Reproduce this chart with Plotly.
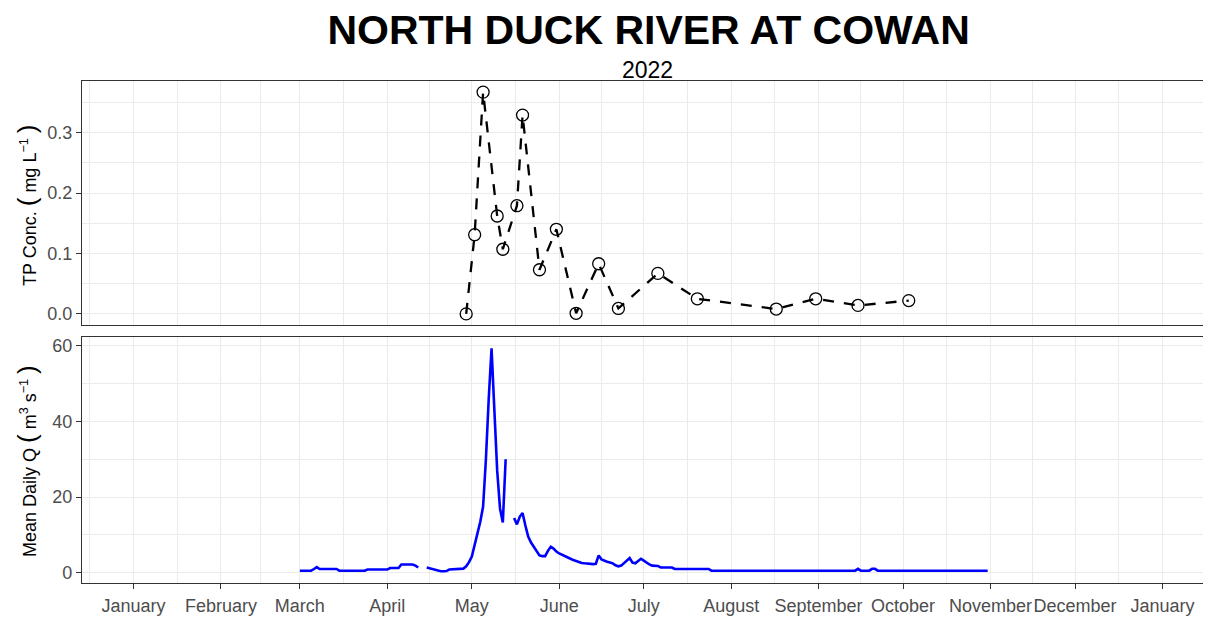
import plotly.graph_objects as go
import pandas as pd

# ---------------- data ----------------
tp_dates = ["2022-04-29", "2022-05-02", "2022-05-05", "2022-05-10", "2022-05-12",
            "2022-05-17", "2022-05-19", "2022-05-25", "2022-05-31", "2022-06-07",
            "2022-06-15", "2022-06-22", "2022-07-06", "2022-07-20", "2022-08-17",
            "2022-08-31", "2022-09-15", "2022-10-03"]
tp_values = [0.000, 0.131, 0.367, 0.162, 0.107, 0.179, 0.329, 0.073, 0.140, 0.001,
             0.083, 0.009, 0.067, 0.025, 0.008, 0.025, 0.014, 0.022]

flow_start = "2022-03-01"
flow_mar = [0.55, 0.55, 0.55, 0.55, 0.55, 1.0, 1.5, 1.0, 1.0, 1.0,
            1.0, 1.0, 1.0, 1.0, 0.55, 0.55, 0.55, 0.55, 0.55, 0.55,
            0.55, 0.55, 0.55, 0.55, 0.85, 0.85, 0.85, 0.85, 0.85, 0.85,
            0.85]
flow_apr = [0.85, 1.25, 1.25, 1.25, 1.25, 2.2, 2.2, 2.2, 2.2, 2.2,
            1.9, 1.4, None, None, 1.4, 1.2, 0.9, 0.6, 0.45, 0.4,
            0.4, 0.45, 0.85, 0.9, 0.9, 0.9, 0.95, 1.1, 1.7, 2.8]
flow_may = [4.3, 7.3, 10.5, 13.5, 17.5, 30.0, 46.0, 59.3, 43.0, 27.0,
            17.0, 13.3, 30.0, None, None, 14.5, 12.8, 14.8, 15.8, 12.5,
            9.6, 8.0, 6.8, 5.5, 4.6, 4.4, 4.4, 5.8, 6.9, 6.4,
            5.6]
flow_jun = [5.1, 4.7, 4.4, 4.0, 3.7, 3.4, 3.1, 2.8, 2.6, 2.5,
            2.4, 2.3, 2.3, 2.4, 4.6, 3.5, 3.1, 2.9, 2.7, 2.5,
            2.0, 1.7, 1.9, 2.5, 3.3, 3.9, 2.7, 2.5, 3.1, 3.7]
flow_jul = [3.2, 2.6, 2.2, 1.9, 1.85, 1.8, 1.4, 1.4, 1.4, 1.4,
            1.4, 1.0, 1.0, 1.0, 1.0, 1.0, 1.0, 1.0, 1.0, 1.0,
            1.0, 1.0, 1.0, 1.0, 0.55, 0.55, 0.55, 0.55, 0.55, 0.55,
            0.55]
flow_aug = [0.55, 0.55, 0.55, 0.55, 0.55, 0.55, 0.55, 0.55, 0.55, 0.55,
            0.55, 0.55, 0.55, 0.55, 0.55, 0.55, 0.55, 0.55, 0.55, 0.55,
            0.55, 0.55, 0.55, 0.55, 0.55, 0.55, 0.55, 0.55, 0.55, 0.55,
            0.55]
flow_sep = [0.55, 0.55, 0.55, 0.55, 0.55, 0.55, 0.55, 0.55, 0.55, 0.55,
            0.55, 0.55, 0.55, 0.55, 1.05, 0.55, 0.55, 0.55, 0.55, 1.05,
            1.05, 0.55, 0.55, 0.55, 0.55, 0.55, 0.55, 0.55, 0.55, 0.55]
flow_oct = [0.55, 0.55, 0.55, 0.55, 0.55, 0.55, 0.55, 0.55, 0.55, 0.55,
            0.55, 0.55, 0.55, 0.55, 0.55, 0.55, 0.55, 0.55, 0.55, 0.55,
            0.55, 0.55, 0.55, 0.55, 0.55, 0.55, 0.55, 0.55, 0.55, 0.55,
            0.55]

month_ticks = ["2022-01-01", "2022-02-01", "2022-03-01", "2022-04-01", "2022-05-01",
               "2022-06-01", "2022-07-01", "2022-08-01", "2022-09-01", "2022-10-01",
               "2022-11-01", "2022-12-01", "2023-01-01"]
month_labels = ["January", "February", "March", "April", "May", "June", "July",
                "August", "September", "October", "November", "December", "January"]

tp_yticks = [0.0, 0.1, 0.2, 0.3]
tp_yticklabels = ["0.0", "0.1", "0.2", "0.3"]
q_yticks = [0, 20, 40, 60]
q_yticklabels = ["0", "20", "40", "60"]

# ---------------- derived ----------------
flow_values = flow_mar + flow_apr + flow_may + flow_jun + flow_jul + flow_aug + flow_sep + flow_oct
flow_dates = pd.date_range(flow_start, periods=len(flow_values), freq="D")

mt = pd.to_datetime(month_ticks)
ext = [mt[0] - pd.Timedelta(days=31)] + list(mt) + [mt[-1] + pd.Timedelta(days=31)]
minor_x = [ext[i] + (ext[i + 1] - ext[i]) / 2 for i in range(len(ext) - 1)]

x_range = ["2021-12-13 17:00", "2023-01-17 21:00"]

FONT = "Liberation Sans, Arial, Helvetica, sans-serif"
GRID = "#ebebeb"
BORDER = "#333333"
TICKC = "#4d4d4d"

# the page body has an 8px margin, so the figure is sized and laid out to compensate
W, H = 1203, 610
ML, MR, MT, MB = 74, 1, 73, 35
PW, PH = W - ML - MR, H - MT - MB

fig = go.Figure()
fig.add_trace(go.Scatter(
    x=tp_dates, y=tp_values, mode="lines+markers",
    line=dict(color="black", width=2.3, dash="11px,10px"),
    marker=dict(symbol="circle-open", size=12, color="black", line=dict(width=1.3)),
    xaxis="x", yaxis="y", showlegend=False, hoverinfo="skip"))
fig.add_trace(go.Scatter(
    x=flow_dates, y=flow_values, mode="lines",
    line=dict(color="#0000FF", width=2.6), connectgaps=False,
    xaxis="x2", yaxis="y2", showlegend=False, hoverinfo="skip"))

common_x = dict(
    range=x_range, type="date", tickmode="array", tickvals=month_ticks,
    showgrid=True, gridcolor=GRID, gridwidth=1.1, zeroline=False,
    showline=True, mirror=True, linecolor=BORDER, linewidth=1.4,
    automargin=False, tickangle=0,
    minor=dict(tickmode="array", tickvals=minor_x, showgrid=True, gridcolor=GRID, gridwidth=0.6, ticks=""),
)
common_y = dict(
    showgrid=True, gridcolor=GRID, gridwidth=1.1, zeroline=False,
    showline=True, mirror=True, linecolor=BORDER, linewidth=1.4,
    ticks="outside", ticklen=5, tickwidth=1.1, tickcolor=BORDER,
    tickfont=dict(family=FONT, size=18, color=TICKC), ticklabelstandoff=0,
    tickmode="array", automargin=False, tickangle=0,
)

def py(page_y):
    # page pixel y -> paper coordinate
    return (H - MB - (page_y - 8)) / PH

def px(page_x):
    return (page_x - 8 - ML) / PW

fig.update_layout(
    width=W, height=H,
    margin=dict(l=ML, r=MR, t=MT, b=MB, autoexpand=False),
    paper_bgcolor="white", plot_bgcolor="white",
    font=dict(family=FONT, color="black"),
    title=dict(text="<b>NORTH DUCK RIVER AT COWAN</b>", x=640.6 / W, xanchor="center",
               y=1 - 22 / H, yanchor="middle", yref="container",
               font=dict(family=FONT, size=41, color="black"), automargin=False),
    xaxis=dict(common_x, domain=[0, 1], anchor="y", showticklabels=False, ticks=""),
    xaxis2=dict(common_x, domain=[0, 1], anchor="y2", matches="x", ticktext=month_labels,
                ticks="outside", ticklen=5, tickwidth=1.1, tickcolor=BORDER,
                tickfont=dict(family=FONT, size=18, color=TICKC), ticklabelstandoff=1),
    yaxis=dict(common_y, domain=[py(325), 1], anchor="x", range=[-0.0184, 0.3854],
               tickvals=tp_yticks, ticktext=tp_yticklabels,
               minor=dict(tickmode="array", tickvals=[0.05, 0.15, 0.25, 0.35], showgrid=True,
                          gridcolor=GRID, gridwidth=0.6, ticks="")),
    yaxis2=dict(common_y, domain=[0, py(336.7)], anchor="x2", range=[-2.7, 62.4],
                tickvals=q_yticks, ticktext=q_yticklabels,
                minor=dict(tickmode="array", tickvals=[10, 30, 50], showgrid=True,
                           gridcolor=GRID, gridwidth=0.6, ticks="")),
    annotations=[
        dict(text="2022", xref="paper", yref="paper", x=px(647), y=py(70),
             xanchor="center", yanchor="middle", showarrow=False,
             font=dict(family=FONT, size=23, color="black")),
        dict(text="TP Conc. <span style='font-size:26px'>(</span> mg L<sup>−1</sup> <span style='font-size:26px'>)</span>",
             xref="paper", yref="paper", x=px(27), y=py(206),
             xanchor="center", yanchor="middle", textangle=-90, showarrow=False,
             font=dict(family=FONT, size=18, color="black")),
        dict(text="Mean Daily Q <span style='font-size:26px'>(</span> m<sup>3</sup> s<sup>−1</sup> <span style='font-size:26px'>)</span>",
             xref="paper", yref="paper", x=px(27), y=py(461),
             xanchor="center", yanchor="middle", textangle=-90, showarrow=False,
             font=dict(family=FONT, size=18, color="black")),
    ],
)

fig.write_html("out.html", config={"displayModeBar": False})
